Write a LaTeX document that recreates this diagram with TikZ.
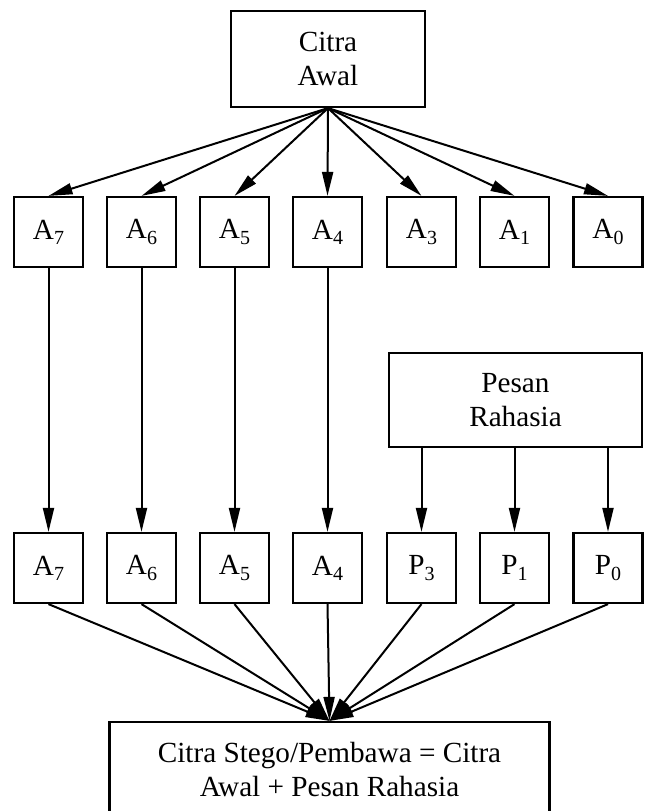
\documentclass[tikz,border=0pt]{standalone}
\usepackage{fontspec}
\setmainfont{Liberation Serif}
\usetikzlibrary{arrows.meta}
\newcommand{\bitlabel}[2]{#1\raisebox{-2.6pt}{\fontsize{10}{10}\selectfont #2}}
\begin{document}
\begin{tikzpicture}[x=0.5pt,y=-0.5pt,
  txt/.style={font=\fontsize{14.6}{17}\selectfont},
  bitbox/.style={txt, draw, line width=1.1pt, minimum width=34.5pt, minimum height=35pt, inner sep=0pt},
  bigbox/.style={txt, draw, line width=1.1pt, inner sep=0pt, align=center},
  link/.style={line width=1pt, -{Triangle[length=12pt,width=5.5pt]}}]
\useasboundingbox (0,0) rectangle (645,811);
\clip (0,0) rectangle (645,811);

% source image
\node[bigbox, minimum width=97pt, minimum height=48pt] (awal) at (328,59) {Citra\\Awal};

% bit planes of the source image
\node[bitbox] (a7) at (48.5,232) {\bitlabel{A}{7}};
\node[bitbox] (a6) at (141.5,232) {\bitlabel{A}{6}};
\node[bitbox] (a5) at (234.5,232) {\bitlabel{A}{5}};
\node[bitbox] (a4) at (327.5,232) {\bitlabel{A}{4}};
\node[bitbox] (a3) at (421.5,232) {\bitlabel{A}{3}};
\node[bitbox] (a1) at (514.5,232) {\bitlabel{A}{1}};
\node[bitbox] (a0) at (608,232) {\bitlabel{A}{0}};

% secret message
\node[bigbox, minimum width=126.5pt, minimum height=47pt] (pesan) at (515.5,400) {Pesan\\Rahasia};

% bit planes of the stego image
\node[bitbox] (b7) at (48.5,568) {\bitlabel{A}{7}};
\node[bitbox] (b6) at (141.5,568) {\bitlabel{A}{6}};
\node[bitbox] (b5) at (234.5,568) {\bitlabel{A}{5}};
\node[bitbox] (b4) at (327.5,568) {\bitlabel{A}{4}};
\node[bitbox] (p3) at (421.5,568) {\bitlabel{P}{3}};
\node[bitbox] (p1) at (514.5,568) {\bitlabel{P}{1}};
\node[bitbox] (p0) at (608,568) {\bitlabel{P}{0}};

% result
\node[bigbox, minimum width=220pt, minimum height=48pt] (stego) at (329.5,770) {Citra Stego/Pembawa = Citra\\Awal + Pesan Rahasia};

% splitting into bit planes
\foreach \n in {a7,a6,a5,a4,a3,a1,a0}
  \draw[link] (awal.south) -- (\n.north);

% kept planes
\draw[link] (a7.south) -- (b7.north);
\draw[link] (a6.south) -- (b6.north);
\draw[link] (a5.south) -- (b5.north);
\draw[link] (a4.south) -- (b4.north);

% message bits
\foreach \n in {p3,p1,p0}
  \draw[link] (pesan.south -| \n.north) -- (\n.north);

% recombination
\foreach \n in {b7,b6,b5,b4,p3,p1,p0}
  \draw[link] (\n.south) -- (stego.north);
\end{tikzpicture}
\end{document}
